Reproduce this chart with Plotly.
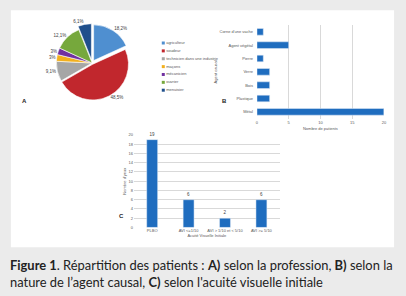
import plotly.graph_objects as go

W, H = 406, 296

# ---- Data ----
professions = ["agriculteur", "soudeur", "technicien dans une industrie", "maçons",
               "mécanicien", "ouvrier", "menuisier"]
prof_counts = [6, 16, 3, 1, 1, 4, 2]
prof_labels = ["18,2%", "48,5%", "9,1%", "3%", "3%", "12,1%", "6,1%"]
prof_colors = ["#4f8fd0", "#c1272d", "#a6a6a6", "#f2b01e", "#7030a0", "#76a83c", "#1f4f8c"]

agents = ["Métal", "Plastique", "Bois", "Verre", "Pierre", "Agent végétal", "Corne d'une vache"]
agent_counts = [20, 2, 2, 2, 1, 5, 1]
agent_ticks = [0, 5, 10, 15, 20]

acuite = ["PLBO", "AVI &lt;=1/10", "AVI &gt; 1/10 et &lt; 5/10", "AVI &gt;= 5/10"]
yeux = [19, 6, 2, 6]
yeux_ticks = list(range(0, 21, 2))

BAR = "#1f6dbf"
TICKC = "#595959"
FONT = "Liberation Sans"


def px_x(a, b):
    return [a / W, b / W]


def px_y(top, bottom):
    return [(H - bottom) / H, (H - top) / H]


fig = go.Figure()

# A: pie
cx, cy, r = 92, 61, 40
fig.add_trace(go.Pie(
    labels=professions, values=prof_counts, text=prof_labels,
    texttemplate="%{text}", textposition="outside",
    textfont=dict(size=4.5, color="#404040", family=FONT),
    marker=dict(colors=prof_colors, line=dict(color="white", width=0.6)),
    sort=False, direction="clockwise", rotation=0,
    pull=[0.08, 0.04, 0, 0, 0, 0, 0.1],
    domain=dict(x=px_x(cx - r, cx + r), y=px_y(cy - r, cy + r)),
    showlegend=False, hoverinfo="label+percent",
))

# manual legend for A
fig.add_trace(go.Scatter(
    x=[0] * len(professions), y=list(range(len(professions))),
    mode="markers+text", text=professions, textposition="middle right",
    textfont=dict(size=4, color=TICKC, family=FONT),
    marker=dict(symbol="square", size=3, color=prof_colors),
    xaxis="x3", yaxis="y3", showlegend=False, cliponaxis=False,
))

# B: horizontal bars
fig.add_trace(go.Bar(
    y=agents, x=agent_counts, orientation="h", marker_color=BAR, width=0.5,
    xaxis="x", yaxis="y", showlegend=False,
))

# C: vertical bars
fig.add_trace(go.Bar(
    x=acuite, y=yeux, marker_color=BAR, width=0.3, text=yeux,
    textposition="outside", textfont=dict(size=4.5, color="#404040", family=FONT),
    xaxis="x2", yaxis="y2", showlegend=False, cliponaxis=False,
))

tickfont = dict(size=4, color=TICKC, family=FONT)
titlefont = dict(size=4, color=TICKC, family=FONT)

fig.update_layout(
    width=W, height=H, margin=dict(l=0, r=0, t=0, b=0),
    paper_bgcolor="#ebebeb", plot_bgcolor="rgba(0,0,0,0)",
    font=dict(family=FONT),
    xaxis=dict(domain=px_x(258.5, 386.7), range=[0, 20], tickvals=agent_ticks,
               tickfont=tickfont, showgrid=True, gridcolor="#d9d9d9", gridwidth=0.6,
               zeroline=False, showline=False, ticks="", anchor="y",
               title=dict(text="Nombre de patients", font=titlefont, standoff=3)),
    yaxis=dict(domain=px_y(22.5, 117.5), type="category", categoryorder="array",
               categoryarray=agents, tickfont=tickfont, showgrid=False, ticks="",
               showline=False, anchor="x", ticklabelstandoff=3,
               title=dict(text="Agent causal", font=titlefont, standoff=2)),
    xaxis2=dict(domain=px_x(134.3, 281.4), type="category", tickfont=tickfont,
                showgrid=False, ticks="", showline=False, anchor="y2",
                title=dict(text="Acuité Visuelle Initiale", font=titlefont, standoff=1)),
    yaxis2=dict(domain=px_y(134.3, 228.3), range=[0, 20], tickvals=yeux_ticks,
                tickfont=tickfont, showgrid=True, gridcolor="#d9d9d9", gridwidth=0.6,
                zeroline=False, showline=False, ticks="", anchor="x2",
                title=dict(text="Nombre d'yeux", font=titlefont, standoff=2)),
    xaxis3=dict(domain=px_x(162, 240), range=[-0.5, 20], visible=False, anchor="y3",
                fixedrange=True),
    yaxis3=dict(domain=px_y(36.7, 92.7), range=[6.5, -0.5], visible=False, anchor="x3",
                fixedrange=True),
    shapes=[dict(type="rect", xref="paper", yref="paper", x0=10 / W, x1=397 / W,
                 y0=(H - 248.5) / H, y1=(H - 7.5) / H, fillcolor="white",
                 line=dict(width=0), layer="below")],
)

anns = [
    ("A", 19, 100), ("B", 226, 100), ("C", 117, 222),
]
for t, x, y in anns:
    fig.add_annotation(text=f"<b>{t}</b>", x=x / W, y=(H - y) / H, xref="paper",
                       yref="paper", showarrow=False, font=dict(size=6, color="#222",
                                                                 family=FONT))

cap_font = dict(size=12.9, color="#222", family="Lato")
fig.add_annotation(
    text="<b>Figure 1</b>. Répartition des patients : <b>A)</b> selon la profession, "
         "<b>B)</b> selon la",
    x=7 / W, y=(H - 266.5) / H, xref="paper", yref="paper", xanchor="left",
    yanchor="middle", showarrow=False, font=cap_font)
fig.add_annotation(
    text="nature de l’agent causal, <b>C)</b> selon l'acuité visuelle initiale",
    x=7 / W, y=(H - 283.3) / H, xref="paper", yref="paper", xanchor="left",
    yanchor="middle", showarrow=False, font=cap_font)

fig.write_html("out.html")
